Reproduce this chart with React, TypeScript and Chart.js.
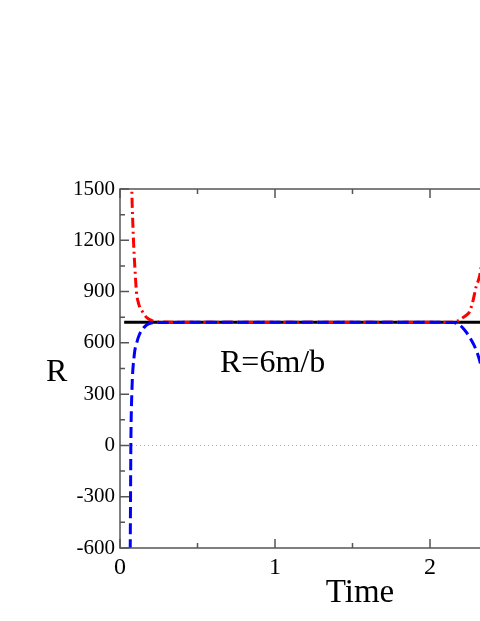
import React, { useEffect, useRef } from "react";
import { Chart, registerables } from "chart.js";

Chart.register(...registerables);

// ---- data ----
const redTime = [0.07, 0.076, 0.087, 0.096, 0.106, 0.12, 0.145, 0.17, 0.199, 0.25, 0.5, 1.0, 1.5, 2.0, 2.15, 2.19, 2.21, 2.235, 2.255, 2.276, 2.298, 2.319, 2.34];
const redValue = [1800, 1500, 1200, 1040, 900, 830, 782, 750, 733, 722, 720, 720, 720, 720, 721, 733, 746, 762, 782, 841, 929, 987, 1100];

const blueTime = [0.064, 0.066, 0.068, 0.07, 0.076, 0.092, 0.108, 0.124, 0.16, 0.19, 0.25, 0.5, 1.0, 1.5, 2.0, 2.15, 2.19, 2.212, 2.24, 2.266, 2.298, 2.319, 2.34];
const blueValue = [-800, -600, -300, 0, 295, 529, 600, 646, 695, 713, 719, 720, 720, 720, 720, 719, 705, 687, 655, 617, 558, 500, 420];

const blackTime = [0.027, 3.0];
const blackValue = [720, 720];

const zeroTime = [0.0, 3.0];
const zeroValue = [0, 0];

const xTicks = [0, 1, 2, 3];
const xMinorTicks = [0.5, 1.5, 2.5];
const yTicks = [-600, -300, 0, 300, 600, 900, 1200, 1500];
const yMinorTicks = [-450, -150, 150, 450, 750, 1050, 1350];

const annotationText = "R=6m/b";
const xTitle = "Time";
const yTitle = "R";

const pts = (xs: number[], ys: number[]) => xs.map((x, i) => ({ x, y: ys[i] }));

const SERIF = "'Liberation Serif', 'Times New Roman', serif";

const framePlugin = {
  id: "framePlugin",
  afterDraw(chart: any) {
    const { ctx, chartArea, scales } = chart;
    const xs = scales.x;
    const ys = scales.y;
    ctx.save();
    ctx.strokeStyle = "#555555";
    ctx.lineWidth = 1.5;
    ctx.strokeRect(chartArea.left, chartArea.top, chartArea.right - chartArea.left, chartArea.bottom - chartArea.top);
    const drawY = (v: number, len: number) => {
      const p = ys.getPixelForValue(v);
      ctx.beginPath();
      ctx.moveTo(chartArea.left, p);
      ctx.lineTo(chartArea.left + len, p);
      ctx.moveTo(chartArea.right, p);
      ctx.lineTo(chartArea.right - len, p);
      ctx.stroke();
    };
    const drawX = (v: number, len: number) => {
      const p = xs.getPixelForValue(v);
      ctx.beginPath();
      ctx.moveTo(p, chartArea.bottom);
      ctx.lineTo(p, chartArea.bottom - len);
      ctx.moveTo(p, chartArea.top);
      ctx.lineTo(p, chartArea.top + len);
      ctx.stroke();
    };
    yTicks.forEach((v) => drawY(v, 9));
    yMinorTicks.forEach((v) => drawY(v, 5));
    xTicks.forEach((v) => drawX(v, 9));
    xMinorTicks.forEach((v) => drawX(v, 5));

    ctx.fillStyle = "#000";
    ctx.textAlign = "left";
    ctx.textBaseline = "alphabetic";
    ctx.font = `32px ${SERIF}`;
    ctx.fillText(annotationText, 220, 372);
    ctx.fillText(yTitle, 46, 381);
    ctx.font = `33px ${SERIF}`;
    ctx.textAlign = "center";
    ctx.fillText(xTitle, 360, 602);
    ctx.restore();
  },
};

export default function App() {
  const ref = useRef<HTMLCanvasElement | null>(null);
  useEffect(() => {
    if (!ref.current) return;
    const chart = new Chart(ref.current, {
      type: "line",
      data: {
        datasets: [
          {
            data: pts(blueTime, blueValue),
            borderColor: "#0000ff",
            borderWidth: 3,
            borderDash: [11, 5],
            pointRadius: 0,
            cubicInterpolationMode: "monotone",
            order: 0,
          },
          {
            data: pts(redTime, redValue),
            borderColor: "#ff0000",
            borderWidth: 3,
            borderDash: [10, 4, 2, 4],
            pointRadius: 0,
            cubicInterpolationMode: "monotone",
            order: 1,
          },
          {
            data: pts(blackTime, blackValue),
            borderColor: "#000000",
            borderWidth: 3,
            pointRadius: 0,
            order: 2,
          },
          {
            data: pts(zeroTime, zeroValue),
            borderColor: "#ee8f9a",
            borderWidth: 1,
            borderDash: [1, 3],
            pointRadius: 0,
            order: 3,
          },
        ],
      },
      options: {
        animation: false,
        responsive: false,
        maintainAspectRatio: false,
        layout: { padding: { top: 189, right: 55, left: 0, bottom: 0 } },
        plugins: { legend: { display: false }, tooltip: { enabled: false } },
        scales: {
          x: {
            type: "linear",
            min: 0,
            max: 3,
            grid: { display: false, drawTicks: false },
            border: { display: false },
            ticks: {
              stepSize: 1,
              padding: 5,
              color: "#000",
              font: { family: SERIF, size: 24 },
              maxRotation: 0,
              callback: (v: any) => String(v),
            },
            afterFit: (s: any) => {
              s.height = 73;
            },
          },
          y: {
            type: "linear",
            min: -600,
            max: 1500,
            grid: { display: false, drawTicks: false },
            border: { display: false },
            ticks: {
              stepSize: 300,
              padding: 5,
              color: "#000",
              font: { family: SERIF, size: 21 },
              callback: (v: any) => String(v),
            },
            afterFit: (s: any) => {
              s.width = 120;
            },
          },
        },
      },
      plugins: [framePlugin],
    });
    return () => chart.destroy();
  }, []);
  return (
    <div style={{ position: "absolute", left: 0, top: 0, width: 480, height: 621, overflow: "hidden", background: "#fff" }}>
      <canvas ref={ref} width={640} height={621} style={{ display: "block", width: 640, height: 621 }} />
    </div>
  );
}
